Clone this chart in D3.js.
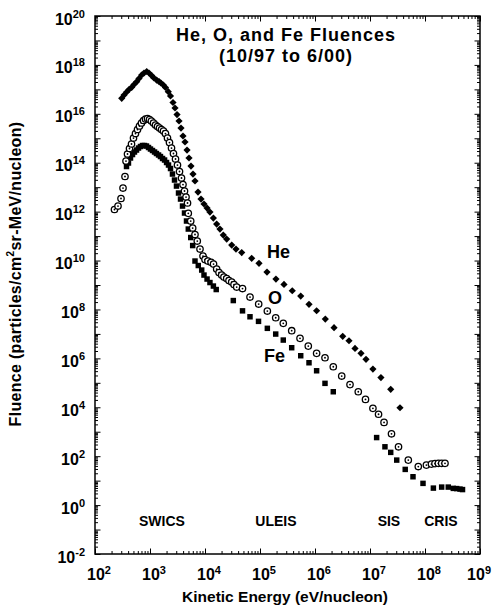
<!DOCTYPE html>
<html><head><meta charset="utf-8">
<script src="https://cdn.jsdelivr.net/npm/d3@7"></script>
<style>
body{margin:0;background:#fff;}
svg{display:block;font-family:"Liberation Sans",Arial,Helvetica,sans-serif;font-weight:bold;}
</style></head><body>
<svg id="chart" width="493" height="606"></svg>
<script>
// ---- data (kinetic energy in eV/nucleon, fluence in particles/cm2 sr MeV/nucleon) ----
const heEnergy=[3.06e2,3.37e2,3.77e2,4.15e2,4.65e2,5.12e2,5.73e2,6.31e2,7.06e2,7.78e2,8.71e2,9.59e2,1.07e3,1.18e3,1.32e3,1.46e3,1.58e3,1.75e3,1.91e3,2.15e3,2.36e3,2.62e3,2.85e3,3.10e3,3.37e3,3.66e3,3.98e3,4.33e3,4.71e3,5.12e3,5.56e3,6.05e3,6.58e3,7.46e3,8.46e3,9.59e3,1.09e4,1.23e4,1.42e4,1.63e4,1.87e4,2.15e4,2.48e4,3.06e4,3.66e4,4.65e4,7.06e4,9.59e4,1.34e5,1.95e5,2.73e5,3.86e5,5.50e5,7.78e5,1.07e6,1.54e6,2.22e6,3.19e6,4.15e6,5.34e6,6.86e6,8.46e6,1.13e7,1.58e7,2.38e7,3.51e7];
const heFluence=[4.31e16,5.87e16,7.80e16,9.86e16,1.21e17,1.58e17,2.06e17,2.78e17,3.86e17,4.67e17,5.37e17,4.67e17,3.68e17,2.91e17,2.41e17,2.09e17,1.82e17,1.51e17,1.19e17,8.02e16,5.35e16,2.90e16,1.73e16,9.35e15,5.08e15,2.62e15,1.24e15,7.03e14,3.30e14,1.56e14,7.33e13,3.45e13,1.79e13,6.34e12,3.27e12,2.05e12,1.40e12,9.64e11,5.47e11,3.11e11,1.94e11,1.10e11,7.57e10,4.31e10,2.95e10,2.12e10,1.23e10,7.68e9,3.39e9,1.75e9,1.06e9,5.82e8,3.53e8,1.62e8,8.85e7,4.05e7,1.79e7,7.94e6,5.25e6,2.56e6,1.60e6,9.10e5,3.65e5,1.64e5,5.40e4,9.55e3];

const oEnergy=[2.26e2,2.62e2,2.97e2,3.23e2,3.51e2,3.66e2,3.90e2,4.24e2,4.61e2,5.01e2,5.45e2,5.93e2,6.44e2,7.00e2,7.62e2,8.28e2,9.01e2,9.79e2,1.06e3,1.16e3,1.26e3,1.37e3,1.49e3,1.62e3,1.76e3,1.91e3,2.08e3,2.26e3,2.46e3,2.67e3,2.91e3,3.16e3,3.44e3,3.74e3,3.98e3,4.24e3,4.52e3,4.81e3,4.97e3,5.50e3,5.97e3,6.58e3,7.24e3,8.11e3,9.20e3,1.00e4,1.13e4,1.29e4,1.43e4,1.63e4,1.80e4,2.01e4,2.21e4,2.48e4,2.73e4,3.06e4,3.37e4,3.77e4,4.81e4,6.58e4,9.46e4,1.36e5,1.93e5,2.65e5,3.77e5,5.34e5,7.55e5,1.07e6,1.52e6,2.15e6,3.06e6,4.33e6,6.12e6,8.28e6,1.13e7,1.43e7,1.80e7,2.46e7,3.30e7,4.97e7,7.55e7,1.06e8,1.31e8,1.52e8,1.75e8,2.01e8,2.31e8];
const oFluence=[1.22e12,1.69e12,3.44e12,9.23e12,2.73e13,1.17e14,2.27e14,3.81e14,5.82e14,1.02e15,1.56e15,2.28e15,3.17e15,4.21e15,5.32e15,6.12e15,6.43e15,5.85e15,5.08e15,4.21e15,3.48e15,3.03e15,2.62e15,2.28e15,1.98e15,1.56e15,1.02e15,6.70e14,3.99e14,2.38e14,1.42e14,8.05e13,4.37e13,2.37e13,1.28e13,6.97e12,3.95e12,2.25e12,8.51e11,4.13e11,2.13e11,1.16e11,6.28e10,2.95e10,1.53e10,1.10e10,9.55e9,8.44e9,7.19e9,4.49e9,3.23e9,2.55e9,2.11e9,1.84e9,1.52e9,1.32e9,1.04e9,8.24e8,7.16e8,3.21e8,1.66e8,8.61e7,4.58e7,2.70e7,1.35e7,6.58e6,3.18e6,1.60e6,1.06e6,4.53e5,1.89e5,8.47e4,4.31e4,2.10e4,9.02e3,5.18e3,2.41e3,8.24e2,2.42e2,6.92e1,3.76e1,4.32e1,4.75e1,4.98e1,5.08e1,5.08e1,5.08e1];

const feEnergy=[3.74e2,4.06e2,4.42e2,4.81e2,5.22e2,5.69e2,6.18e2,6.71e2,7.31e2,7.94e2,8.63e2,9.39e2,1.02e3,1.11e3,1.21e3,1.31e3,1.43e3,1.55e3,1.69e3,1.84e3,2.00e3,2.17e3,2.36e3,2.56e3,2.79e3,3.03e3,3.30e3,3.59e3,3.90e3,4.24e3,4.61e3,4.97e3,5.50e3,5.97e3,6.58e3,7.55e3,8.71e3,9.59e3,1.09e4,1.23e4,1.42e4,1.60e4,3.27e4,4.81e4,6.58e4,9.40e4,1.36e5,1.93e5,2.65e5,3.77e5,5.50e5,7.78e5,1.07e6,1.52e6,2.15e6,1.32e7,1.87e7,2.38e7,3.06e7,4.37e7,6.05e7,9.20e7,1.42e8,2.01e8,2.65e8,3.27e8,3.77e8,4.33e8,4.81e8];
const feFluence=[7.00e13,9.72e13,1.56e14,2.16e14,2.74e14,3.30e14,3.99e14,4.60e14,5.05e14,5.05e14,4.82e14,4.19e14,3.63e14,3.16e14,2.74e14,2.38e14,2.07e14,1.79e14,1.49e14,1.29e14,1.02e14,8.05e13,5.79e13,3.45e13,1.96e13,1.11e13,5.77e12,3.27e12,1.69e12,8.77e11,4.13e11,1.94e11,8.73e10,4.10e10,9.55e9,6.25e9,4.08e9,2.55e9,1.75e9,1.26e9,9.06e8,6.52e8,2.31e8,8.77e7,5.02e7,3.26e7,1.69e7,9.86e6,5.60e6,2.72e6,1.28e6,6.61e5,3.11e5,9.51e4,4.31e4,5.77e2,2.42e2,1.43e2,6.92e1,2.88e1,1.44e1,7.73,4.95,5.45,5.45,4.82,4.73,4.51,4.31];

const xTickExponents=[2,3,4,5,6,7,8,9];
const yTickExponents=[-2,0,2,4,6,8,10,12,14,16,18,20];
const instrumentNames=["SWICS","ULEIS","SIS","CRIS"];
const instrumentEnergy=[1.65e3,1.95e5,2.21e7,1.95e8];
const speciesNames=["He","O","Fe"];
const titleLines=["He, O, and Fe Fluences","(10/97 to 6/00)"];

// ---- layout ----
const svg=d3.select("#chart");
const L=95,R=480,T=16,B=554;
const x=d3.scaleLog().domain([1e2,1e9]).range([L,R]);
const y=d3.scaleLog().domain([1e-2,1e20]).range([B,T]);

const majX=d3.range(2,10).map(e=>Math.pow(10,e));
const minX=[];d3.range(2,9).forEach(e=>{for(let k=2;k<=9;k++)minX.push(k*Math.pow(10,e));});
const majY=d3.range(-2,21).map(e=>Math.pow(10,e));
const minY=[];d3.range(-2,20).forEach(e=>{for(let k=2;k<=9;k++)minY.push(k*Math.pow(10,e));});

function addAxis(axis,tr){
  svg.append("g").attr("transform",tr).call(axis).call(g=>{
    g.select(".domain").remove();
    g.selectAll("line").attr("stroke","#000").attr("stroke-width",1);
    g.selectAll("text").remove();
  });
}
const MJ=5.5,MN=3;
addAxis(d3.axisBottom(x).tickValues(majX).tickSize(-MJ).tickSizeOuter(0),`translate(0,${B})`);
addAxis(d3.axisBottom(x).tickValues(minX).tickSize(-MN).tickSizeOuter(0),`translate(0,${B})`);
addAxis(d3.axisTop(x).tickValues(majX).tickSize(-MJ).tickSizeOuter(0),`translate(0,${T})`);
addAxis(d3.axisTop(x).tickValues(minX).tickSize(-MN).tickSizeOuter(0),`translate(0,${T})`);
addAxis(d3.axisLeft(y).tickValues(majY).tickSize(-MJ).tickSizeOuter(0),`translate(${L},0)`);
addAxis(d3.axisLeft(y).tickValues(minY).tickSize(-MN).tickSizeOuter(0),`translate(${L},0)`);
addAxis(d3.axisRight(y).tickValues(majY).tickSize(-MJ).tickSizeOuter(0),`translate(${R},0)`);
addAxis(d3.axisRight(y).tickValues(minY).tickSize(-MN).tickSizeOuter(0),`translate(${R},0)`);

svg.append("rect").attr("x",L).attr("y",T).attr("width",R-L).attr("height",B-T)
  .attr("fill","none").attr("stroke","#000").attr("stroke-width",1.5);

// tick labels
const xl=svg.append("g").attr("font-size",16);
xTickExponents.forEach((e,i)=>{
  const last=i===xTickExponents.length-1;
  const t=xl.append("text").attr("y",580);
  if(last){t.attr("x",491).attr("text-anchor","end");}
  else{t.attr("x",x(Math.pow(10,e))-8);}
  t.append("tspan").text("10");
  t.append("tspan").attr("font-size",11).attr("dy",-6).text(e);
});
const yl=svg.append("g").attr("font-size",16).attr("text-anchor","end");
yTickExponents.forEach(e=>{
  const t=yl.append("text").attr("x",85).attr("y",y(Math.pow(10,e))+8.5);
  t.append("tspan").text("10");
  t.append("tspan").attr("font-size",11).attr("dy",-7).text(e);
});

// axis titles
svg.append("text").attr("x",285).attr("y",602).attr("text-anchor","middle")
  .attr("font-size",15.5).text("Kinetic Energy (eV/nucleon)");
const yt=svg.append("text").attr("transform","translate(21,274) rotate(-90)")
  .attr("text-anchor","middle").attr("font-size",16).attr("letter-spacing",0.3);
yt.append("tspan").text("Fluence (particles/cm");
yt.append("tspan").attr("font-size",10).attr("dy",-7).text("2");
yt.append("tspan").attr("dy",7).text("sr-MeV/nucleon)");

// title (two lines)
svg.append("g").attr("font-size",18).attr("letter-spacing",1).attr("text-anchor","middle")
  .selectAll("text").data(titleLines).join("text")
  .attr("x",286).attr("y",(d,i)=>41+i*21).text(d=>d);

// instrument labels
svg.append("g").attr("font-size",14).attr("text-anchor","middle")
  .selectAll("text").data(instrumentNames).join("text")
  .attr("x",(d,i)=>x(instrumentEnergy[i])).attr("y",526).text(d=>d);

// species labels
const spPos=[[267,258],[268,304],[264,362]];
svg.append("g").attr("font-size",18)
  .selectAll("text").data(speciesNames).join("text")
  .attr("x",(d,i)=>spPos[i][0]).attr("y",(d,i)=>spPos[i][1]).text(d=>d);

// data
const fe=feEnergy.map((e,i)=>[e,feFluence[i]]);
const ox=oEnergy.map((e,i)=>[e,oFluence[i]]);
const he=heEnergy.map((e,i)=>[e,heFluence[i]]);

const sq=d3.symbol().type(d3.symbolSquare).size(30);
svg.append("g").selectAll("path").data(fe).join("path")
  .attr("d",sq).attr("transform",d=>`translate(${x(d[0])},${y(d[1])})`).attr("fill","#000");

const og=svg.append("g");
og.selectAll("g").data(ox).join("g")
  .attr("transform",d=>`translate(${x(d[0])},${y(d[1])})`)
  .each(function(){
    const g=d3.select(this);
    g.append("circle").attr("r",3.2).attr("fill","#fff").attr("stroke","#000").attr("stroke-width",1.3);
    g.append("circle").attr("r",0.9).attr("fill","#000");
  });

const dm=d3.symbol().type(d3.symbolSquare).size(26);
svg.append("g").selectAll("path").data(he).join("path")
  .attr("d",dm).attr("transform",d=>`translate(${x(d[0])},${y(d[1])}) rotate(45)`).attr("fill","#000");
</script>
</body></html>
